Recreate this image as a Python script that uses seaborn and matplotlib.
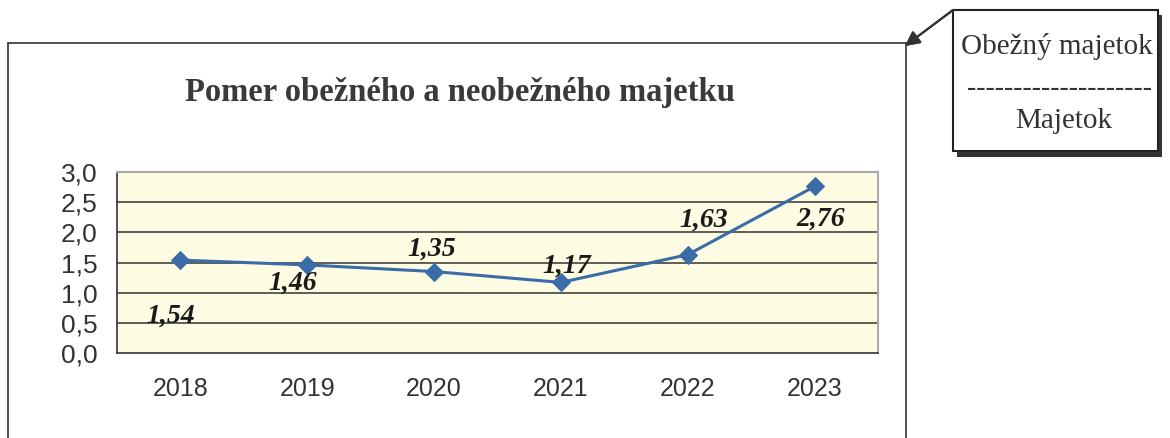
import matplotlib
matplotlib.use('Agg')
import matplotlib.pyplot as plt
import seaborn as sns
import pandas as pd
from matplotlib.lines import Line2D
from matplotlib.patches import Rectangle

# Data
years = ['2018', '2019', '2020', '2021', '2022', '2023']
ratio = [1.54, 1.46, 1.35, 1.17, 1.63, 2.76]
labels = ['1,54', '1,46', '1,35', '1,17', '1,63', '2,76']
y_ticks = [0.0, 0.5, 1.0, 1.5, 2.0, 2.5, 3.0]
y_ticklabels = ['0,0', '0,5', '1,0', '1,5', '2,0', '2,5', '3,0']

# label offsets in pixels (dx, dy) relative to each point
label_offsets = [(-10, -56), (-15, -18), (-2, 22), (6, 16), (16, 34), (6, -33)]

sns.set_theme(style="white")
plt.rcParams['font.family'] = ['Liberation Sans', 'DejaVu Sans']

df = pd.DataFrame({'year': years, 'ratio': ratio})

fig = plt.figure(figsize=(11.7, 4.38), dpi=100)
ax = fig.add_axes([117 / 1170, 85 / 438, 761 / 1170, 181 / 438])
ax.set_facecolor('#FEFCE2')

line_color = '#3A6CA8'
sns.lineplot(data=df, x='year', y='ratio', ax=ax, color=line_color, linewidth=2.2,
             marker='D', markersize=9, markeredgecolor=line_color, sort=False)

ax.set_xlim(-0.5, 5.5)
ax.set_ylim(0, 3.0)
ax.set_xlabel('')
ax.set_ylabel('')

# grid lines
for v in y_ticks[1:-1]:
    ax.axhline(v, color='#333333', linewidth=1.1, zorder=0.5)

ax.set_yticks(y_ticks)
ax.set_yticklabels(y_ticklabels, fontsize=19, color='#333333')
ax.set_xticks(range(len(years)))
ax.set_xticklabels(years, fontsize=18, color='#333333')
ax.set_xticks([i - 0.5 for i in range(len(years) + 1)], minor=True)
ax.tick_params(axis='x', which='major', length=0, pad=17)
ax.tick_params(axis='x', which='minor', length=7, width=1, color='#333333', direction='out')
ax.tick_params(axis='y', which='major', length=9, width=1, color='#333333', direction='out', pad=5)

for side in ['left', 'bottom']:
    ax.spines[side].set_color('#333333')
    ax.spines[side].set_linewidth(1.2)
for side in ['top', 'right']:
    ax.spines[side].set_color('#aaaaaa')
    ax.spines[side].set_linewidth(1.5)

# data labels
for i, (val, lab) in enumerate(zip(ratio, labels)):
    dx, dy = label_offsets[i]
    ax.annotate(lab, (i, val), xytext=(dx, dy), textcoords='offset pixels',
                ha='center', va='center', fontsize=20, fontweight='bold',
                fontstyle='italic', family=['Liberation Serif'], color='#1a1a1a')

# title
fig.text(460 / 1170, 1 - 92 / 438, 'Pomer obežného a neobežného majetku',
         ha='center', va='center', fontsize=23.5, fontweight='bold',
         family=['Liberation Serif'], color='#3a3a3a')

# chart frame (open at the bottom)
W, H = 1170, 438
def fx(px):
    return px / W
def fy(py):
    return 1 - py / H

frame_kw = dict(color='#333333', linewidth=1.2, transform=fig.transFigure)
fig.add_artist(Line2D([fx(8), fx(8)], [fy(43), 0], **frame_kw))
fig.add_artist(Line2D([fx(8), fx(906)], [fy(43), fy(43)], **frame_kw))
fig.add_artist(Line2D([fx(906), fx(906)], [fy(43), 0], **frame_kw))

# callout box with shadow
fig.add_artist(Rectangle((fx(957), fy(157)), fx(1162) - fx(957), fy(15) - fy(157),
                         transform=fig.transFigure, facecolor='#333333',
                         edgecolor='none', zorder=2))
fig.add_artist(Rectangle((fx(953), fy(151)), fx(1158) - fx(953), fy(10) - fy(151),
                         transform=fig.transFigure, facecolor='white',
                         edgecolor='#222222', linewidth=1.5, zorder=3))
fig.text(fx(1057), fy(47), 'Obežný majetok', ha='center', va='center', fontsize=21,
         family=['Liberation Serif'], color='#333333', zorder=4)
fig.text(fx(1060), fy(89), '--------------------', ha='center', va='center', fontsize=20,
         family=['Liberation Serif'], color='#333333', zorder=4)
fig.text(fx(1064), fy(121), 'Majetok', ha='center', va='center', fontsize=21,
         family=['Liberation Serif'], color='#333333', zorder=4)

# arrow from box to frame corner
fig.add_artist(plt.annotate('', xy=(fx(905), fy(46)), xycoords='figure fraction',
                            xytext=(fx(953), fy(10)), textcoords='figure fraction',
                            arrowprops=dict(arrowstyle='-|>', color='#333333', lw=1.5,
                                            mutation_scale=22, shrinkA=0, shrinkB=0)))

fig.savefig('out.png', dpi=100, facecolor='white')
